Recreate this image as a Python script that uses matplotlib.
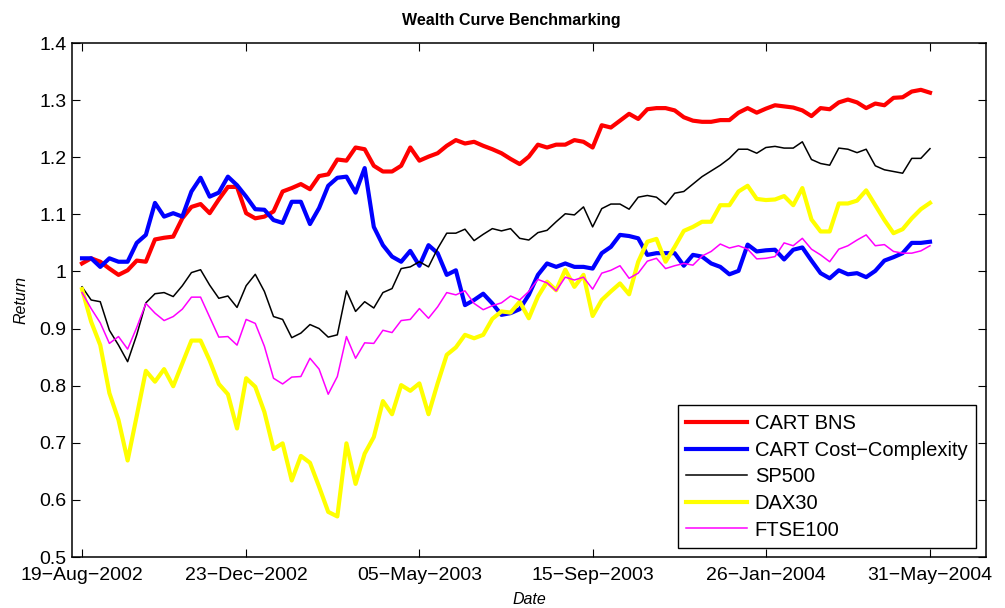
import numpy as np
import pandas as pd
import matplotlib
matplotlib.use("Agg")
import matplotlib.pyplot as plt

plt.rcParams['font.family'] = ['Liberation Sans', 'DejaVu Sans']

# weekly dates, 19-Aug-2002 .. 31-May-2004
dates = pd.date_range("2002-08-19", "2004-05-31", freq="7D")

cart_bns = [1.014, 1.023, 1.017, 1.005, 0.994, 1.002, 1.019, 1.017, 1.056, 1.059,
            1.061, 1.093, 1.113, 1.118, 1.102, 1.126, 1.148, 1.148, 1.102, 1.093,
            1.096, 1.105, 1.140, 1.146, 1.153, 1.144, 1.167, 1.170, 1.196, 1.194,
            1.217, 1.214, 1.185, 1.175, 1.175, 1.185, 1.217, 1.194, 1.201, 1.207,
            1.220, 1.230, 1.224, 1.227, 1.220, 1.214, 1.207, 1.197, 1.188, 1.201,
            1.222, 1.217, 1.222, 1.222, 1.230, 1.227, 1.217, 1.256, 1.252, 1.264,
            1.276, 1.267, 1.284, 1.286, 1.286, 1.282, 1.270, 1.264, 1.262, 1.262,
            1.265, 1.265, 1.278, 1.286, 1.278, 1.285, 1.291, 1.289, 1.287, 1.282,
            1.272, 1.286, 1.284, 1.296, 1.301, 1.296, 1.286, 1.294, 1.291, 1.304,
            1.305, 1.315, 1.318, 1.313]

cart_cc = [1.023, 1.023, 1.008, 1.023, 1.017, 1.017, 1.050, 1.064, 1.120, 1.096,
           1.102, 1.096, 1.140, 1.164, 1.131, 1.138, 1.166, 1.151, 1.131, 1.109,
           1.108, 1.090, 1.085, 1.122, 1.122, 1.083, 1.111, 1.150, 1.164, 1.166,
           1.138, 1.181, 1.078, 1.046, 1.026, 1.017, 1.036, 1.010, 1.046, 1.032,
           0.994, 1.002, 0.941, 0.950, 0.961, 0.944, 0.924, 0.927, 0.934, 0.959,
           0.994, 1.014, 1.008, 1.014, 1.008, 1.008, 1.005, 1.032, 1.043, 1.064,
           1.062, 1.058, 1.029, 1.032, 1.032, 1.032, 1.010, 1.029, 1.026, 1.014,
           1.008, 0.995, 1.001, 1.047, 1.035, 1.037, 1.038, 1.021, 1.038, 1.042,
           1.019, 0.997, 0.988, 1.002, 0.995, 0.997, 0.990, 1.001, 1.019, 1.025,
           1.032, 1.050, 1.050, 1.052]

sp500 = [0.973, 0.950, 0.947, 0.897, 0.871, 0.842, 0.889, 0.945, 0.961, 0.963,
         0.956, 0.975, 0.998, 1.003, 0.976, 0.953, 0.957, 0.937, 0.975, 0.995,
         0.965, 0.921, 0.916, 0.884, 0.892, 0.907, 0.900, 0.885, 0.889, 0.966,
         0.930, 0.947, 0.936, 0.963, 0.970, 1.005, 1.008, 1.017, 1.008, 1.040,
         1.067, 1.067, 1.074, 1.054, 1.065, 1.075, 1.071, 1.075, 1.058, 1.055,
         1.068, 1.072, 1.087, 1.101, 1.099, 1.113, 1.078, 1.110, 1.118, 1.118,
         1.109, 1.130, 1.133, 1.130, 1.117, 1.137, 1.140, 1.153, 1.166, 1.176,
         1.186, 1.198, 1.214, 1.214, 1.207, 1.217, 1.219, 1.216, 1.216, 1.227,
         1.196, 1.189, 1.186, 1.216, 1.214, 1.208, 1.214, 1.185, 1.178, 1.175,
         1.172, 1.198, 1.198, 1.215]

dax30 = [0.969, 0.912, 0.871, 0.787, 0.740, 0.669, 0.747, 0.826, 0.807, 0.829,
         0.799, 0.839, 0.879, 0.879, 0.844, 0.803, 0.785, 0.725, 0.813, 0.798,
         0.754, 0.689, 0.699, 0.634, 0.677, 0.665, 0.623, 0.579, 0.571, 0.699,
         0.628, 0.681, 0.710, 0.773, 0.750, 0.801, 0.791, 0.804, 0.750, 0.804,
         0.854, 0.867, 0.889, 0.883, 0.889, 0.917, 0.930, 0.928, 0.947, 0.918,
         0.956, 0.982, 0.967, 1.003, 0.973, 0.994, 0.922, 0.950, 0.965, 0.979,
         0.960, 1.017, 1.052, 1.057, 1.017, 1.043, 1.071, 1.078, 1.087, 1.087,
         1.116, 1.116, 1.140, 1.150, 1.127, 1.125, 1.126, 1.132, 1.116, 1.146,
         1.091, 1.070, 1.070, 1.119, 1.119, 1.124, 1.142, 1.116, 1.090, 1.067,
         1.074, 1.093, 1.109, 1.120]

ftse100 = [0.963, 0.935, 0.910, 0.874, 0.886, 0.864, 0.902, 0.944, 0.927, 0.914,
           0.921, 0.934, 0.955, 0.955, 0.920, 0.885, 0.886, 0.871, 0.916, 0.909,
           0.869, 0.813, 0.803, 0.815, 0.816, 0.848, 0.829, 0.785, 0.816, 0.886,
           0.848, 0.875, 0.874, 0.897, 0.893, 0.914, 0.916, 0.935, 0.918, 0.938,
           0.963, 0.959, 0.966, 0.944, 0.933, 0.940, 0.945, 0.957, 0.950, 0.965,
           0.986, 0.980, 0.966, 0.990, 0.985, 0.990, 0.969, 0.997, 1.002, 1.010,
           0.988, 0.997, 1.018, 1.023, 1.005, 1.010, 1.014, 1.011, 1.027, 1.035,
           1.048, 1.041, 1.045, 1.039, 1.022, 1.023, 1.026, 1.050, 1.045, 1.058,
           1.039, 1.029, 1.017, 1.039, 1.045, 1.055, 1.064, 1.045, 1.047, 1.035,
           1.032, 1.032, 1.036, 1.045]

tick_dates = pd.to_datetime(["2002-08-19", "2002-12-23", "2003-05-05",
                             "2003-09-15", "2004-01-26", "2004-05-31"])
tick_labels = ["19−Aug−2002", "23−Dec−2002", "05−May−2003",
               "15−Sep−2003", "26−Jan−2004", "31−May−2004"]
y_ticks = [0.5, 0.6, 0.7, 0.8, 0.9, 1.0, 1.1, 1.2, 1.3, 1.4]

fig = plt.figure(figsize=(10.05, 6.08), dpi=100)
ax = fig.add_axes([72 / 1005, 51 / 608, 914 / 1005, 514 / 608])

ax.plot(dates, cart_bns, color='red', lw=3.0, label='CART BNS')
ax.plot(dates, cart_cc, color='blue', lw=3.0, label='CART Cost−Complexity')
ax.plot(dates, sp500, color='black', lw=1.1, label='SP500')
ax.plot(dates, dax30, color='yellow', lw=3.0, label='DAX30')
ax.plot(dates, ftse100, color='magenta', lw=1.1, label='FTSE100')

ax.set_xlim(dates[0] - pd.Timedelta(days=7.7), dates[0] + pd.Timedelta(days=694))
ax.set_ylim(0.5, 1.4)
ax.set_xticks(tick_dates)
ax.set_xticklabels(tick_labels)
ax.set_yticks(y_ticks)
ax.set_yticklabels(['%g' % v for v in y_ticks])

ax.tick_params(direction='in', length=6, width=0.8, labelsize=14,
               top=True, right=True)
ax.tick_params(axis='x', pad=7)
ax.tick_params(axis='y', pad=4)
for s in ax.spines.values():
    s.set_linewidth(1.1)

ax.set_title('Wealth Curve Benchmarking', fontsize=11.5, fontweight='bold',
             pad=13, x=0.481)
ax.set_xlabel('Date', fontsize=11.5, style='italic', labelpad=6)
ax.set_ylabel('Return', fontsize=11.5, style='italic', labelpad=8)

leg = ax.legend(loc='lower right', bbox_to_anchor=(0.989, 0.0175), borderaxespad=0,
                fontsize=14.5, fancybox=False, framealpha=1, edgecolor='black',
                handlelength=3.0, labelspacing=0.38, borderpad=0.42,
                handletextpad=0.4)
leg.get_frame().set_linewidth(1.0)

fig.savefig('out.png', dpi=100)
